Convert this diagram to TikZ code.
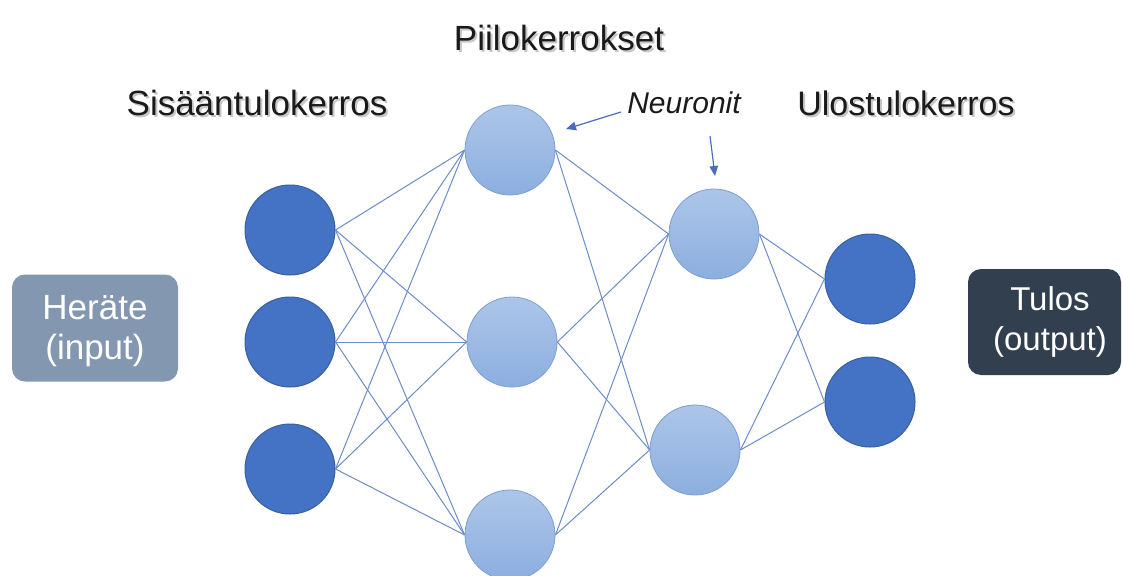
\documentclass[tikz,border=0pt]{standalone}
\usepackage{fontspec}
\setmainfont{Liberation Sans}
\usetikzlibrary{arrows.meta}

\definecolor{deepblue}{HTML}{4472C4}
\definecolor{deepedge}{HTML}{38609F}
\definecolor{paletop}{HTML}{ACC6E8}
\definecolor{palebot}{HTML}{8CAEDF}
\definecolor{paleedge}{HTML}{7D9FD2}
\definecolor{wirecol}{HTML}{6C8CCA}
\definecolor{pointer}{HTML}{4A6CC0}
\definecolor{inbox}{HTML}{8497B0}
\definecolor{outbox}{HTML}{323F4F}
\definecolor{ink}{HTML}{1A1A1A}

\tikzset{
  io/.style={circle, minimum size=90pt, inner sep=0pt, fill=deepblue, draw=deepedge, line width=1pt},
  hid/.style={circle, minimum size=90pt, inner sep=0pt, top color=paletop, bottom color=palebot, draw=paleedge, line width=0.8pt},
  wire/.style={draw=wirecol, line width=1pt},
  tag/.style={rounded corners=13pt, inner sep=0pt},
  tagtext/.style={text=white, align=center, inner sep=0pt},
  head/.style={text=ink, inner sep=0pt},
  headshade/.style={text=black!22, inner sep=0pt},
  pointerarrow/.style={draw=pointer, line width=1.2pt, -{Triangle[length=10pt,width=8.5pt]}},
}

\begin{document}
\begin{tikzpicture}[x=1pt,y=-1pt]
  \useasboundingbox[fill=white] (0,0) rectangle (1123,575);

  % layer titles (soft shadow first, then the text)
  \begin{scope}[font=\fontsize{35}{40}\selectfont]
    \node[headshade] (t1s) at (561,40) {Piilokerrokset};
    \node[head]      (t1)  at (559,38) {Piilokerrokset};
    \node[headshade] (t2s) at (259,105) {Sisääntulokerros};
    \node[head]      (t2)  at (257,103) {Sisääntulokerros};
  \end{scope}
  \begin{scope}[font=\fontsize{34}{40}\selectfont]
    \node[headshade] (t3s) at (908,105) {Ulostulokerros};
    \node[head]      (t3)  at (906,103) {Ulostulokerros};
  \end{scope}
  \node[font=\fontsize{30}{34}\selectfont\itshape, text=ink, inner sep=0pt] (nn) at (684,103) {Neuronit};

  % input and output boxes
  \node[tag, fill=inbox, minimum width=166pt, minimum height=107pt] (inp) at (95,328) {};
  \node[tagtext, font=\fontsize{35}{40}\selectfont] (inpt) at (95,331) {Heräte\\(input)};
  \node[tag, fill=outbox, minimum width=153pt, minimum height=106pt] (outp) at (1044.5,322) {};
  \node[tagtext, font=\fontsize{33}{40}\selectfont] (outpt) at (1050,322) {Tulos\\(output)};

  % neurons
  \node[io] (i1) at (290,230) {};
  \node[io] (i2) at (290,342) {};
  \node[io] (i3) at (290,469) {};
  \node[hid] (h1) at (510,150) {};
  \node[hid] (h2) at (512,342) {};
  \node[hid] (h3) at (510,535) {};
  \node[hid] (g1) at (714,234) {};
  \node[hid] (g2) at (695,450) {};
  \node[io] (o1) at (870,279) {};
  \node[io] (o2) at (870,402) {};

  % connections between layers
  \foreach \a in {i1,i2,i3}
    \foreach \b in {h1,h2,h3}
      \draw[wire] (\a.east) -- (\b.west);
  \foreach \a in {h1,h2,h3}
    \foreach \b in {g1,g2}
      \draw[wire] (\a.east) -- (\b.west);
  \foreach \a in {g1,g2}
    \foreach \b in {o1,o2}
      \draw[wire] (\a.east) -- (\b.west);

  % pointers from the "Neuronit" label
  \coordinate (p1s) at (621,112);
  \coordinate (p1e) at (566,129);
  \coordinate (p2s) at (710,136);
  \coordinate (p2e) at (715,176);
  \draw[pointerarrow] (p1s) -- (p1e);
  \draw[pointerarrow] (p2s) -- (p2e);
\end{tikzpicture}
\end{document}
